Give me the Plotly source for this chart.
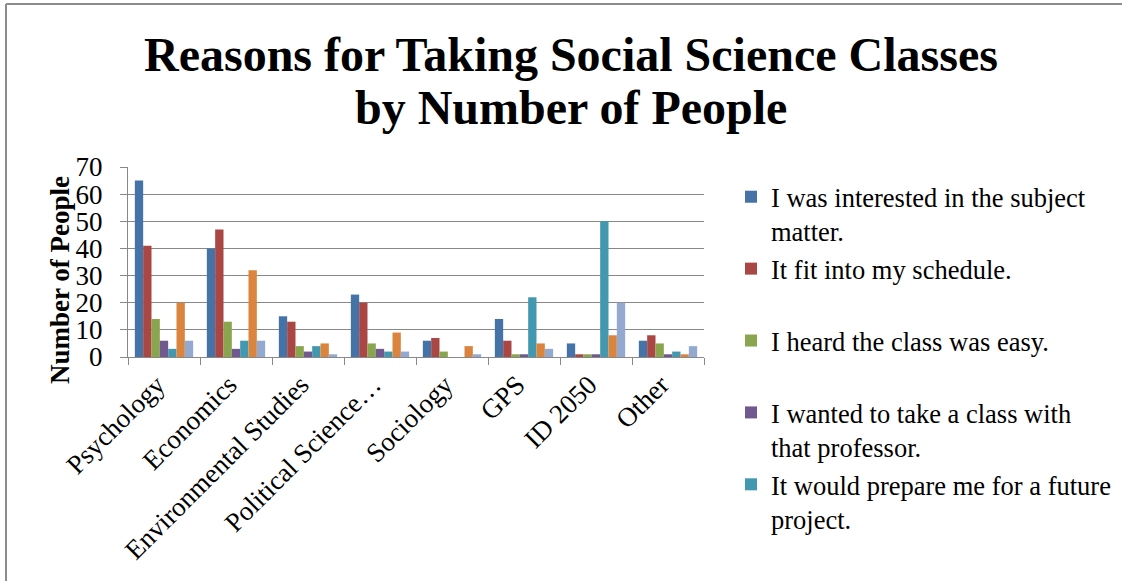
import plotly.graph_objects as go

categories = ["Psychology", "Economics", "Environmental Studies", "Political Science…",
              "Sociology", "GPS", "ID 2050", "Other"]

series_names = [
    "I was interested in the subject<br>matter.",
    "It fit into my schedule.<br> ",
    "I heard the class was easy.<br> ",
    "I wanted to take a class with<br>that professor.",
    "It would prepare me for a future<br>project.",
    "Reason 6",
    "Reason 7",
]

interested = [65, 40, 15, 23, 6, 14, 5, 6]
schedule = [41, 47, 13, 20, 7, 6, 1, 8]
easy = [14, 13, 4, 5, 2, 1, 1, 5]
professor = [6, 3, 2, 3, 0, 1, 1, 1]
future_project = [3, 6, 4, 2, 0, 22, 50, 2]
reason6 = [20, 32, 5, 9, 4, 5, 8, 1]
reason7 = [6, 6, 1, 2, 1, 3, 20, 4]

series_values = [interested, schedule, easy, professor, future_project, reason6, reason7]
colors = ["#4572A7", "#AA4643", "#89A54E", "#71588F", "#4198AF", "#DB843D", "#93A9CF"]
show_in_legend = [True, True, True, True, True, False, False]

W, H = 1122, 581
L, R, T, B = 128, 418, 167, 224
pw, ph = W - L - R, H - T - B

def px_x(x):
    return (x - L) / pw

def px_y(y):
    return (H - B - y) / ph

FONT = "Liberation Serif"

fig = go.Figure()
for name, vals, col, sl in zip(series_names, series_values, colors, show_in_legend):
    fig.add_trace(go.Bar(
        x=categories, y=vals, name=name, marker=dict(color=col, line=dict(width=0)),
        showlegend=sl, legendgroup=name,
    ))

fig.update_layout(
    width=W, height=H,
    margin=dict(l=L, r=R, t=T, b=B, autoexpand=False),
    paper_bgcolor="white", plot_bgcolor="white",
    barmode="group", bargap=0.19, bargroupgap=0,
    font=dict(family=FONT, color="black", size=27),
    showlegend=True,
    legend=dict(
        x=px_x(731), y=px_y(173), xanchor="left", yanchor="top",
        font=dict(family=FONT, size=26.5, color="black"),
        tracegroupgap=9, itemwidth=30, bgcolor="rgba(0,0,0,0)",
        traceorder="normal", valign="top", maxheight=430,
    ),
    xaxis=dict(
        showline=True, linecolor="#888888", linewidth=1.3,
        ticks="outside", tickson="boundaries", ticklen=7, tickcolor="#888888",
        tickangle=-45, tickfont=dict(family=FONT, size=27, color="black"),
        showgrid=False, ticklabelshift=-7,
    ),
    yaxis=dict(
        range=[0, 70], dtick=10, tick0=0,
        showline=True, linecolor="#888888", linewidth=1.3,
        ticks="outside", ticklen=7, tickcolor="#888888",
        showgrid=True, gridcolor="#888888", gridwidth=1.3,
        tickfont=dict(family=FONT, size=27, color="black"),
        ticklabelstandoff=12, zeroline=False,
    ),
    annotations=[
        dict(text="<b>Reasons for Taking Social Science Classes</b>", x=px_x(571), y=px_y(55),
             xref="paper", yref="paper", showarrow=False, xanchor="center", yanchor="middle",
             font=dict(family=FONT, size=48, color="black")),
        dict(text="<b>by Number of People</b>", x=px_x(571), y=px_y(108),
             xref="paper", yref="paper", showarrow=False, xanchor="center", yanchor="middle",
             font=dict(family=FONT, size=48, color="black")),
        dict(text="<b>Number of People</b>", x=px_x(60), y=px_y(280), textangle=-90,
             xref="paper", yref="paper", showarrow=False, xanchor="center", yanchor="middle",
             font=dict(family=FONT, size=27, color="black")),
    ],
    shapes=[
        dict(type="line", xref="paper", yref="paper", x0=px_x(6), x1=px_x(1130),
             y0=px_y(4), y1=px_y(4), line=dict(color="#8c8c8c", width=2)),
        dict(type="line", xref="paper", yref="paper", x0=px_x(6), x1=px_x(6),
             y0=px_y(4), y1=px_y(600), line=dict(color="#8c8c8c", width=2)),
    ],
)

fig.write_html("out.html", config={"displayModeBar": False},
               post_script="document.body.style.margin='0px';document.body.style.overflow='hidden';")
